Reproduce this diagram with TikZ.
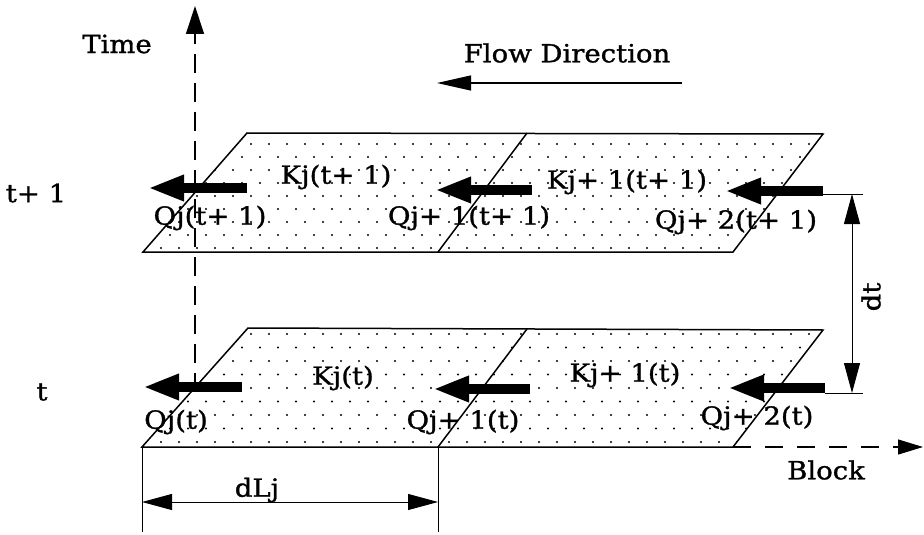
\documentclass[tikz,border=0pt]{standalone}
\usepackage{fontspec}
\setmainfont{DejaVu Serif}[FakeStretch=1.1, FakeBold=1.2]
\usetikzlibrary{arrows.meta}
\begin{document}
\begin{tikzpicture}[x=1pt,y=-1pt,
  lbl/.style={font=\fontsize{25}{27}\selectfont, inner sep=0pt},
  edge/.style={line width=1.5pt, line join=miter},
  fatarrow/.style={line width=10pt, -{Triangle[length=36pt,width=24pt]}},
  flowarrow/.style={line width=1.2pt, -{Triangle[length=34pt,width=15pt]}},
  dimline/.style={line width=0.9pt},
  dimarrow/.style={line width=0.9pt, {Triangle[length=30pt,width=16pt]}-{Triangle[length=30pt,width=16pt]}},
  axisline/.style={line width=1.2pt, dash pattern=on 19pt off 10pt}
]
\useasboundingbox (0,0) rectangle (924,535);

% corners of the upper (t+1) band
\coordinate (UA) at (143,252);
\coordinate (UB) at (247,133);
\coordinate (UC) at (823,134);
\coordinate (UD) at (733,252);
\coordinate (UMt) at (527,133);
\coordinate (UMb) at (438,252);
% corners of the lower (t) band
\coordinate (LA) at (142,447);
\coordinate (LB) at (248,328);
\coordinate (LC) at (823,330);
\coordinate (LD) at (733,447);
\coordinate (LMt) at (527,329);
\coordinate (LMb) at (438,447);

% dotted fill
\begin{scope}
  \clip (UA)--(UB)--(UC)--(UD)--cycle;
  \foreach \r in {0,...,9}{
    \foreach \c in {0,...,42}{
      \fill ({125+\c*18+mod(\r,2)*9},{144+\r*13}) circle (1.1);
    }
  }
\end{scope}
\begin{scope}
  \clip (LA)--(LB)--(LC)--(LD)--cycle;
  \foreach \r in {0,...,9}{
    \foreach \c in {0,...,42}{
      \fill ({125+\c*18+mod(\r,2)*9},{334+\r*13.5}) circle (1.1);
    }
  }
\end{scope}

% time axis
\coordinate (ax0) at (195,392);
\coordinate (ax1) at (195,6);
\draw[axisline, -{Triangle[length=28pt,width=18pt]}] (ax0) -- (ax1);

% block axis
\coordinate (bx1) at (923,447);
\draw[line width=1.2pt, dash pattern=on 18pt off 14pt, -{Triangle[length=25pt,width=15pt]}] (LD) -- (bx1);

% bands
\draw[edge] (UA)--(UB)--(UC)--(UD)--cycle;
\draw[edge] (UMb)--(UMt);
\draw[edge] (LA)--(LB)--(LC)--(LD)--cycle;
\draw[edge] (LMb)--(LMt);

% labels
\node[lbl] (time) at (117,44) {Time};
\node[lbl] (flow) at (567,53) {Flow Direction};
\node[lbl] (tp1) at (36,193) {t+ 1};
\node[lbl] (t0) at (42,392) {t};
\node[lbl] (block) at (826,470) {Block};

\node[lbl] (k1u) at (336,177) {Kj(t+ 1)};
\node[lbl] (k2u) at (627,182) {Kj+ 1(t+ 1)};
\node[lbl] (q1u) at (210,218) {Qj(t+ 1)};
\node[lbl] (q2u) at (469,218) {Qj+ 1(t+ 1)};
\node[lbl] (q3u) at (736,222) {Qj+ 2(t+ 1)};

\node[lbl] (k1l) at (343,378) {Kj(t)};
\node[lbl] (k2l) at (625,375) {Kj+ 1(t)};
\node[lbl] (q1l) at (176,422) {Qj(t)};
\node[lbl] (q2l) at (463,422) {Qj+ 1(t)};
\node[lbl] (q3l) at (757,418) {Qj+ 2(t)};

% flow direction arrow
\coordinate (fa0) at (682,83);
\coordinate (fa1) at (437,83);
\draw[flowarrow] (fa0) -- (fa1);

% fat flux arrows
\coordinate (ua1s) at (247,188); \coordinate (ua1e) at (148,188);
\coordinate (ua2s) at (532,190); \coordinate (ua2e) at (435,190);
\coordinate (ua3s) at (823,191); \coordinate (ua3e) at (725,191);
\coordinate (la1s) at (242,387); \coordinate (la1e) at (143,387);
\coordinate (la2s) at (530,389); \coordinate (la2e) at (433,389);
\coordinate (la3s) at (825,388); \coordinate (la3e) at (728,388);
\draw[fatarrow] (ua1s) -- (ua1e);
\draw[fatarrow] (ua2s) -- (ua2e);
\draw[fatarrow] (ua3s) -- (ua3e);
\draw[fatarrow] (la1s) -- (la1e);
\draw[fatarrow] (la2s) -- (la2e);
\draw[fatarrow] (la3s) -- (la3e);

% dt dimension
\coordinate (dtu0) at (823,194); \coordinate (dtu1) at (863,194);
\coordinate (dtl0) at (825,393); \coordinate (dtl1) at (863,393);
\coordinate (dta) at (852,194); \coordinate (dtb) at (852,393);
\draw[dimline] (dtu0) -- (dtu1);
\draw[dimline] (dtl0) -- (dtl1);
\draw[dimarrow] (dta) -- (dtb);
\node[lbl, rotate=90] (dt) at (871,297) {dt};

% dLj dimension
\coordinate (dl0) at (142,532); \coordinate (dr0) at (438,532);
\coordinate (dla) at (142,502); \coordinate (dlb) at (438,502);
\draw[dimline] (LA) -- (dl0);
\draw[dimline] (LMb) -- (dr0);
\draw[dimarrow] (dla) -- (dlb);
\node[lbl] (dlj) at (257,490) {dLj};
\end{tikzpicture}
\end{document}
